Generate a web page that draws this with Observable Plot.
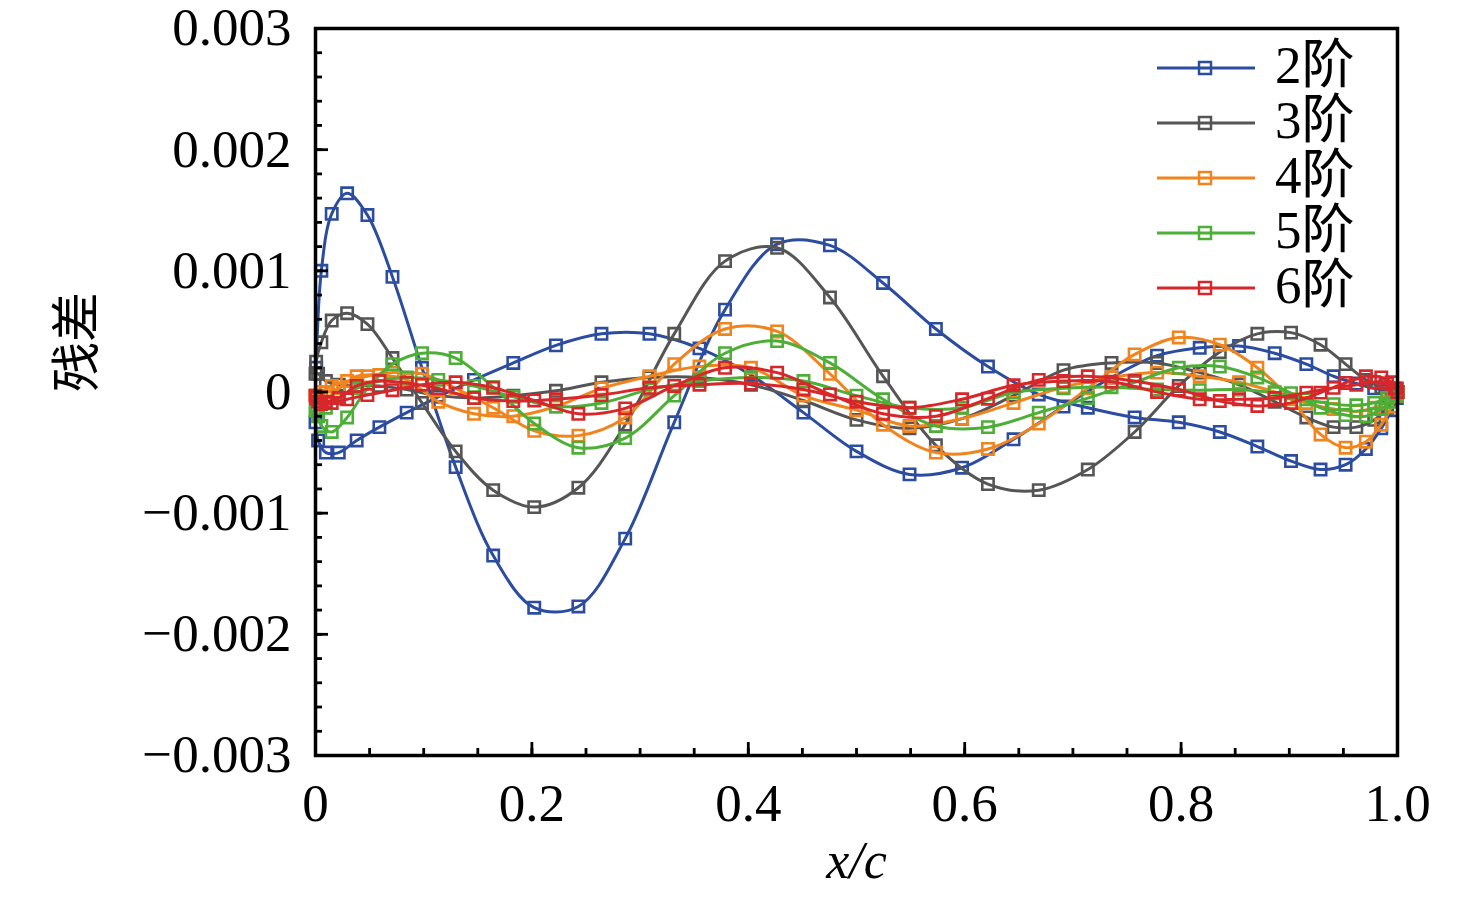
<!DOCTYPE html>
<html><head><meta charset="utf-8">
<script src="https://cdn.jsdelivr.net/npm/d3@7"></script>
<script src="https://cdn.jsdelivr.net/npm/@observablehq/plot@0.6"></script>
<style>
body{margin:0;background:#fff;}
#wrap{position:relative;width:1476px;height:910px;}
#legend{position:absolute;left:0;top:0;pointer-events:none;}
</style></head><body><div id="wrap"></div>
<script>
// marker x positions (x/c) for the two surfaces
const xA=[0.000602,0.005412,0.014985,0.029228,0.048005,0.071136,0.098396,0.129524,0.164221,0.202150,0.242949,0.286223,0.331555,0.378510,0.426635,0.475466,0.524534,0.573365,0.621490,0.668445,0.713777,0.757051,0.797850,0.835779,0.870476,0.901604,0.928864,0.951995,0.970772,0.985015,0.994588,0.999398];
const xB=[0,0.002408,0.009607,0.021530,0.038060,0.059039,0.084265,0.113495,0.146447,0.182803,0.222215,0.264302,0.308658,0.354857,0.402455,0.450991,0.5,0.549009,0.597545,0.645143,0.691342,0.735698,0.777785,0.817197,0.853553,0.886505,0.915735,0.940961,0.961940,0.978470,0.990393,0.997592,1];

const seriesNames=["2阶","3阶","4阶","5阶","6阶"];
const colors=["#2b4c9f","#555555","#f0841f","#4dae38","#d6272a"];

// residual values in units of 1e-4
const blueA=[2,10,14.7,16.4,14.6,9.5,2.0,-6.2,-13.5,-17.8,-17.7,-12.1,-2.5,6.8,12.2,12.1,9.0,5.2,2.1,-0.2,-1.3,-2.1,-2.5,-3.3,-4.5,-5.7,-6.4,-6.0,-4.7,-3.0,-1.5,-0.5];
const blueB=[-2.5,-4.0,-5.0,-5.0,-4.0,-2.9,-1.7,-0.4,1.0,2.4,3.85,4.8,4.8,3.6,1.4,-1.7,-4.9,-6.8,-6.25,-3.9,-1.2,1.2,3.0,3.65,3.8,3.2,2.3,1.3,0.7,0.3,0.1,0,0];
const grayA=[2.5,4.1,5.9,6.5,5.6,2.8,-0.9,-4.9,-8.1,-9.5,-7.9,-2.7,4.8,10.8,11.9,7.8,1.3,-4.4,-7.6,-8.1,-6.4,-3.3,0.5,3.3,4.8,4.9,3.9,2.3,1.0,0.4,0.1,0];
const grayB=[1.5,1.5,0.9,0.6,0.5,0.5,0.2,-0.3,-0.5,-0.3,0.1,0.8,1.2,1.2,0.6,-0.7,-2.3,-3.0,-2.2,-0.3,1.8,2.4,2.4,1.6,0.6,-0.8,-2.1,-2.9,-2.9,-2.3,-1.3,-0.4,0];
const orangeA=[-0.3,0.0,0.5,0.9,1.3,1.6,1.5,0.3,-1.3,-3.2,-3.6,-2.1,2.3,5.2,5.0,1.5,-2.7,-5.0,-4.7,-2.6,0.3,3.1,4.5,3.9,2.0,-0.6,-3.5,-4.6,-4.1,-2.7,-1.2,-0.3];
const orangeB=[-0.3,-0.5,0.0,0.3,1.3,1.4,1.0,-0.8,-1.8,-2.0,-1.2,0.3,1.3,2.1,2.0,-0.3,-1.5,-2.8,-2.2,-0.9,0.4,1.2,1.6,1.3,0.8,0.0,-0.9,-1.4,-1.6,-1.3,-0.8,-0.2,0];
const greenA=[-1.5,-2.8,-3.3,-2.1,0.3,2.3,3.2,2.8,0.4,-2.6,-4.6,-3.8,-0.3,3.2,4.2,2.4,-0.6,-2.8,-2.9,-1.7,-0.5,0.8,2.0,2.1,1.2,-0.1,-1.3,-1.9,-2.0,-1.4,-0.8,-0.3];
const greenB=[-1.5,-2.0,-1.3,-0.5,0.3,0.9,1.2,1.0,0.5,-0.4,-1.2,-0.9,0.2,0.9,1.2,0.9,-0.3,-1.3,-1.3,-0.05,0.3,0.4,0.2,0.15,0.2,-0.1,-0.6,-1.0,-1.1,-0.9,-0.5,-0.2,0];
const redA=[-0.5,-1.0,-0.9,-0.6,-0.25,0.15,0.6,0.8,0.35,-0.7,-1.8,-1.35,0.5,2.0,1.6,-0.2,-1.8,-2.0,-0.55,1.0,1.3,0.9,0.2,-0.75,-1.15,-0.9,-0.05,0.75,1.3,1.2,0.8,0.3];
const redB=[-0.3,-0.8,-0.8,-0.5,0.5,0.9,0.75,0.3,-0.5,-0.75,-0.6,-0.25,0.35,0.6,0.7,0.2,-0.8,-1.3,-0.6,0.55,0.9,0.85,0.0,-0.6,-0.6,-0.5,-0.05,0.35,0.6,0.8,0.7,0.3,0];

const branchesA=[blueA,grayA,orangeA,greenA,redA];
const branchesB=[blueB,grayB,orangeB,greenB,redB];
const UNIT=1e-4;

// tick definitions
const yMajor=[-0.003,-0.002,-0.001,0,0.001,0.002,0.003];
const yLabels=["\u22120.003","\u22120.002","\u22120.001","0","0.001","0.002","0.003"];
const xMajor=[0,0.2,0.4,0.6,0.8,1.0];
const xLabels=["0","0.2","0.4","0.6","0.8","1.0"];
const yMinor=d3.ticks(-0.003,0.003,30);
const xMinor=d3.ticks(0,1,20);

const rows=[];
seriesNames.forEach((name,i)=>{
  const a=branchesA[i], b=branchesB[i];
  for(let k=a.length-1;k>=0;k--) rows.push({series:name,x:xA[k],y:a[k]*UNIT});
  for(let k=0;k<b.length;k++) rows.push({series:name,x:xB[k],y:b[k]*UNIT});
});

const serif='"Liberation Serif","Times New Roman","Noto Sans CJK SC",serif';
const seriesMarks=[];
seriesNames.forEach(name=>{
  const d=rows.filter(r=>r.series===name);
  seriesMarks.push(Plot.line(d,{x:"x",y:"y",stroke:"series",strokeWidth:3,curve:"catmull-rom"}));
  seriesMarks.push(Plot.dot(d,{x:"x",y:"y",stroke:"series",symbol:"square",r:6.4,strokeWidth:2.6,fill:"none"}));
});

const chart=Plot.plot({
  width:1476,height:910,
  marginLeft:315,marginRight:79,marginTop:28,marginBottom:155,
  style:{fontFamily:serif,background:"#fff",color:"#000",overflow:"visible"},
  x:{domain:[0,1]},
  y:{domain:[-0.003,0.003]},
  color:{domain:seriesNames,range:colors},
  marks:[
    ...seriesMarks,
    Plot.axisY(yMinor,{tickSize:-7,strokeWidth:2.8,tickFormat:()=>"",label:null}),
    Plot.axisY(yMajor,{tickSize:-13,strokeWidth:2.8,tickFormat:()=>"",label:null}),
    Plot.axisY(yMajor,{tickSize:0,tickPadding:24,fontSize:53,tickFormat:d=>yLabels[yMajor.indexOf(d)],label:null}),
    Plot.axisX(xMinor,{tickSize:-7,strokeWidth:2.8,tickFormat:()=>"",label:null}),
    Plot.axisX(xMajor,{tickSize:-13,strokeWidth:2.8,tickFormat:()=>"",label:null}),
    Plot.axisX(xMajor,{tickSize:0,tickPadding:28,fontSize:53,tickFormat:d=>xLabels[xMajor.indexOf(d)],label:null}),
    Plot.frame({stroke:"#000",strokeWidth:3.5}),
    Plot.text(["残差"],{frameAnchor:"left",dx:-238,rotate:-90,fontSize:50,fontFamily:'"Noto Sans CJK SC",sans-serif',text:d=>d}),
    Plot.text(["x/c"],{frameAnchor:"bottom",dy:122,fontSize:52,fontStyle:"italic",text:d=>d})
  ]
});
const wrap=document.getElementById("wrap");
wrap.appendChild(chart);

// legend overlay
const lg=d3.select(wrap).append("svg").attr("id","legend").attr("width",1476).attr("height",910);
seriesNames.forEach((name,i)=>{
  const cy=68+55*i;
  const g=lg.append("g");
  g.append("line").attr("x1",1157).attr("x2",1255).attr("y1",cy).attr("y2",cy).attr("stroke",colors[i]).attr("stroke-width",2.8);
  g.append("rect").attr("x",1205-6).attr("y",cy-6).attr("width",12).attr("height",12).attr("fill","none").attr("stroke",colors[i]).attr("stroke-width",2.5);
  g.append("text").attr("x",1275).attr("y",cy+15).attr("font-size",53).attr("font-family",serif).attr("fill","#000").text(name);
});
</script></body></html>
